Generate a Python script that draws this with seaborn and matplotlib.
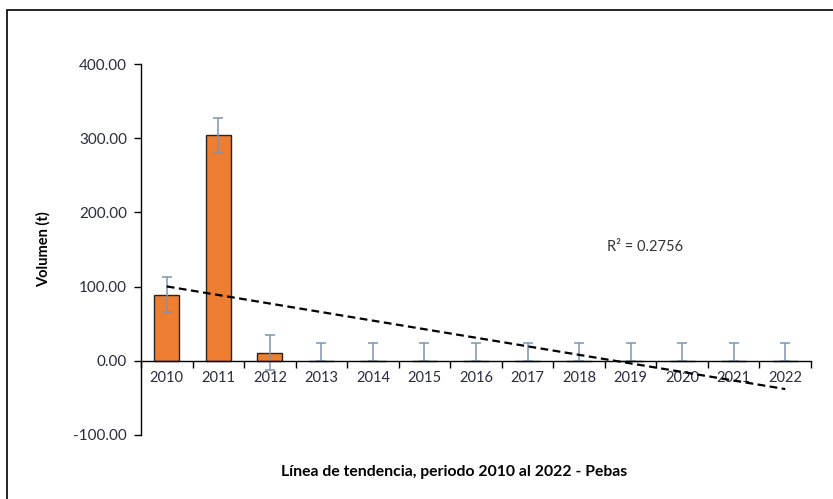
import numpy as np
import pandas as pd
import matplotlib
matplotlib.use("Agg")
import matplotlib.pyplot as plt
from matplotlib.patches import Rectangle
import seaborn as sns

# Annual volume, Pebas, 2010-2022
years = ["2010", "2011", "2012", "2013", "2014", "2015", "2016",
         "2017", "2018", "2019", "2020", "2021", "2022"]
volumen = [89.0, 304.0, 11.0, 0, 0, 0, 0, 0, 0, 0, 0, 0, 0]
err_up = [23.5] * 13
err_down = [23.5, 23.5, 23.5, 0, 0, 0, 0, 0, 0, 0, 0, 0, 0]
y_ticks = [-100, 0, 100, 200, 300, 400]
r2_text = "R² = 0.2756"

sns.set_theme(style="white")
plt.rcParams["font.family"] = ["Lato", "DejaVu Sans"]

df = pd.DataFrame({"anio": years, "volumen": volumen})
pos = np.arange(len(years))

fig = plt.figure(figsize=(8.33, 4.99), dpi=100)
ax = fig.add_axes([141 / 833, 1 - 435 / 499, 670 / 833, 371 / 499])

sns.barplot(data=df, x="anio", y="volumen", ax=ax, color="#ED7D31",
            saturation=1, width=0.49, edgecolor="#262626", linewidth=1.0,
            errorbar=None, zorder=2)

# Error bars sit just under the axis line so zero-length ends stay hidden
ax.errorbar(pos, volumen, yerr=[err_down, err_up], fmt="none",
            ecolor="#7F93B3", elinewidth=1.1, capsize=3.5, capthick=1.1,
            zorder=2.2)

# Linear trend over the series
sns.regplot(x=pos, y=np.array(volumen), ax=ax, scatter=False, ci=None,
            truncate=True,
            line_kws=dict(color="black", lw=1.6, linestyle=(0, (3.5, 2)),
                          zorder=4))

ax.set_xlim(-0.5, len(years) - 0.5)
ax.set_ylim(-100, 400)
ax.set_yticks(y_ticks)
ax.set_yticklabels([f"{v:.2f}" for v in y_ticks])
ax.set_xticks(pos)
ax.set_xticklabels(years)
ax.set_xticks(np.arange(-0.5, len(years), 1.0), minor=True)

for s in ["top", "right"]:
    ax.spines[s].set_visible(False)
ax.spines["bottom"].set_position(("data", 0))
for s in ["left", "bottom"]:
    ax.spines[s].set_color("black")
    ax.spines[s].set_linewidth(1.0)

tick_color = "#2B2B40"
ax.tick_params(axis="y", which="major", direction="out", length=5,
               width=1, color="black", labelsize=11, labelcolor=tick_color,
               pad=5, left=True)
ax.tick_params(axis="x", which="major", length=0, labelsize=10.5,
               labelcolor=tick_color, pad=7)
ax.tick_params(axis="x", which="minor", direction="out", length=5,
               width=1, color="black", bottom=True)

ax.set_xlabel("")
ax.set_ylabel("Volumen (t)", fontsize=10.5, fontweight="bold",
              color="black", labelpad=16)
ax.grid(False)

ax.text(645 / 833, 1 - 247 / 499, r2_text, transform=fig.transFigure,
        ha="center", va="center", fontsize=10.5, color="#333333")

fig.text(454 / 833, 1 - 472 / 499,
         "Línea de tendencia, periodo 2010 al 2022 - Pebas",
         ha="center", va="center", fontsize=11.3, fontweight="bold",
         color="black")

# Outer frame of the chart area
fig.patches.append(Rectangle((7 / 833, -0.05), 1.2, 1 - 10 / 499 + 0.05,
                             transform=fig.transFigure, fill=False,
                             edgecolor="black", linewidth=1.2))

fig.savefig("out.png", dpi=100)
